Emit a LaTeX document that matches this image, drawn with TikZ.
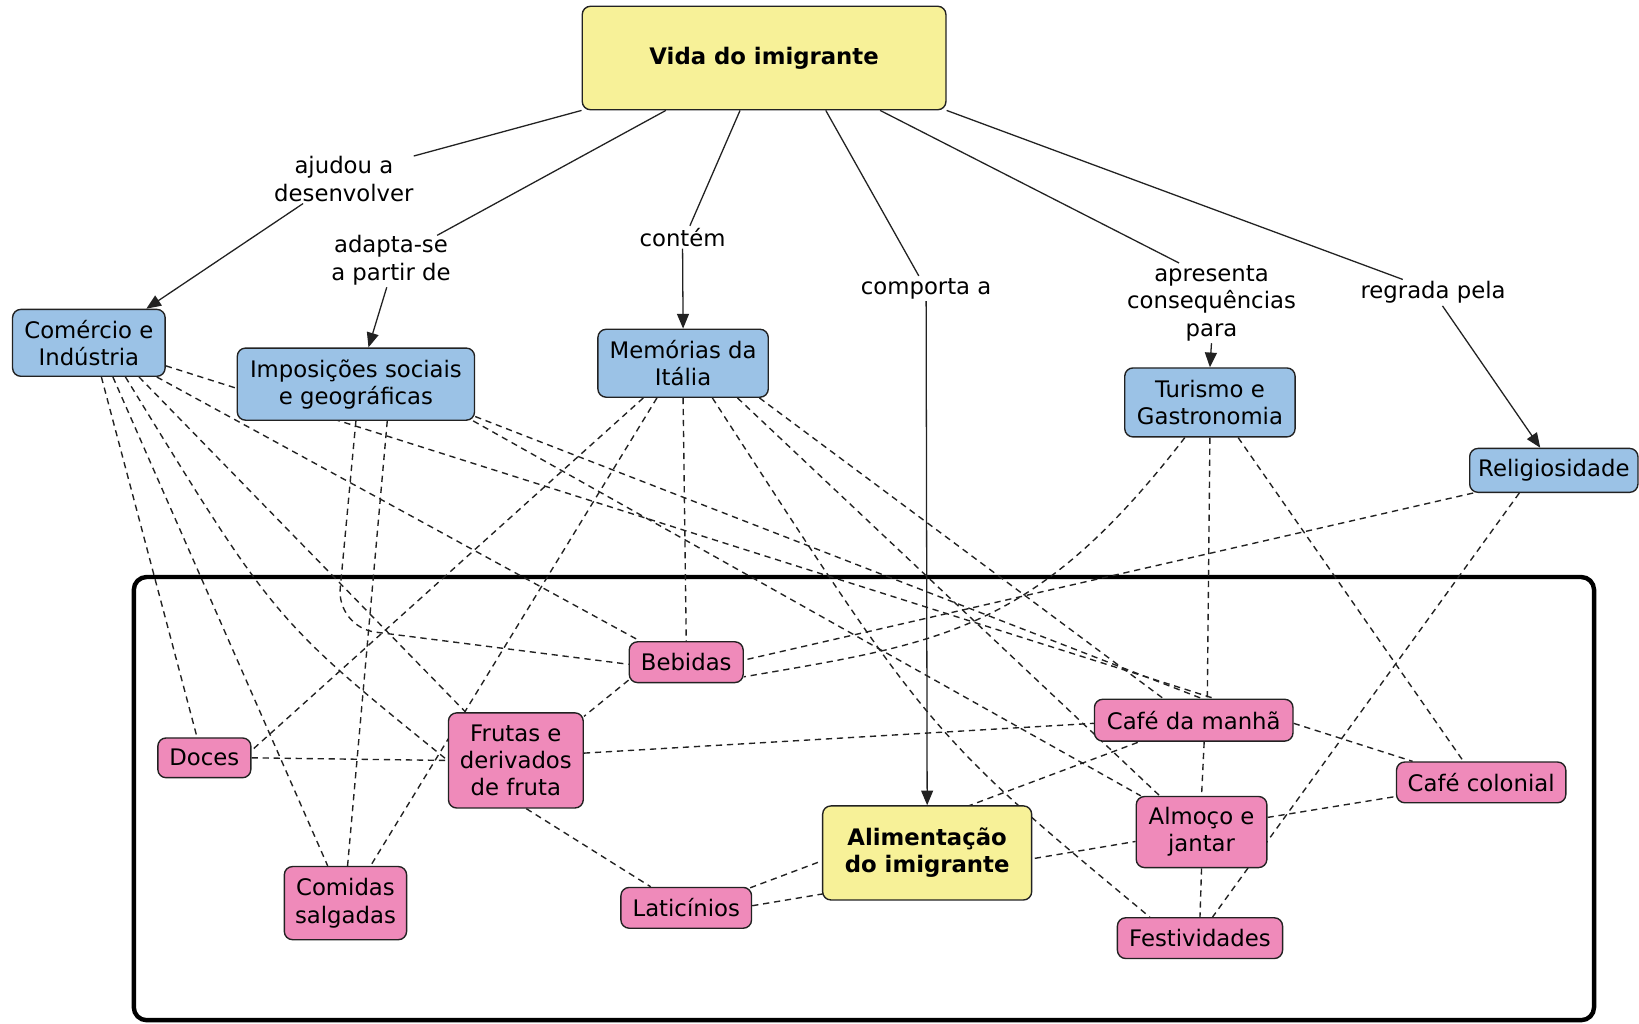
\documentclass[tikz,border=0pt]{standalone}
\usepackage{fontspec}
\setmainfont{DejaVu Sans}
\usetikzlibrary{calc,arrows.meta,backgrounds}

\definecolor{conceptblue}{HTML}{9BC2E6}
\definecolor{conceptpink}{HTML}{EF8ABA}
\definecolor{conceptyellow}{HTML}{F7F198}
\definecolor{inkdark}{HTML}{222222}

\tikzset{
  box/.style={draw=inkdark, line width=0.75pt, rounded corners=4.5pt, inner sep=0pt,
              align=center, text=black, font=\fontsize{12.4}{14.8}\selectfont},
  bluebox/.style={box, fill=conceptblue},
  pinkbox/.style={box, fill=conceptpink},
  yellowbox/.style={box, fill=conceptyellow, font=\fontsize{12.4}{14.8}\selectfont\bfseries},
  linklabel/.style={inner sep=1pt, align=center, font=\fontsize{12.4}{15}\selectfont},
  rel/.style={draw=inkdark, line width=0.7pt},
  relarrow/.style={rel, -{Triangle[length=8pt,width=6.5pt]}},
  xlink/.style={draw=inkdark, line width=0.75pt, dash pattern=on 3.4pt off 2.6pt},
  groupframe/.style={draw=black, line width=2.4pt, rounded corners=7pt}
}

\begin{document}
\begin{tikzpicture}[x=0.02cm, y=-0.02cm]
\useasboundingbox (0,0) rectangle (1568,979);

% ---- concepts ----
\node[yellowbox, minimum width=6.96cm, minimum height=1.98cm] (Vida) at (731,55.5) {Vida do imigrante};

\node[bluebox, minimum width=2.92cm, minimum height=1.28cm] (C) at (85,328) {Comércio e\\Indústria};
\node[bluebox, minimum width=4.54cm, minimum height=1.38cm] (Imp) at (340.5,367.5) {Imposições sociais\\e geográficas};
\node[bluebox, minimum width=3.26cm, minimum height=1.30cm] (M) at (653.5,347.5) {Memórias da\\Itália};
\node[bluebox, minimum width=3.26cm, minimum height=1.32cm] (T) at (1157.5,385) {Turismo e\\Gastronomia};
\node[bluebox, minimum width=3.22cm, minimum height=0.84cm] (R) at (1486.5,450) {Religiosidade};

\node[pinkbox, minimum width=2.18cm, minimum height=0.78cm] (Bebidas) at (656.5,633.5) {Bebidas};
\node[pinkbox, minimum width=1.78cm, minimum height=0.76cm] (Doces) at (195.5,725) {Doces};
\node[pinkbox, minimum width=2.58cm, minimum height=1.82cm] (Frutas) at (493.5,727.5) {Frutas e\\derivados\\de fruta};
\node[pinkbox, minimum width=2.34cm, minimum height=1.40cm] (Comidas) at (330.5,864) {Comidas\\salgadas};
\node[pinkbox, minimum width=2.50cm, minimum height=0.78cm] (Lat) at (656.5,868.5) {Laticínios};
\node[yellowbox, minimum width=4.00cm, minimum height=1.80cm] (Alim) at (887,816) {Alimentação\\do imigrante};
\node[pinkbox, minimum width=3.80cm, minimum height=0.80cm] (Cafe) at (1142,689) {Café da manhã};
\node[pinkbox, minimum width=2.50cm, minimum height=1.36cm] (Almoco) at (1149.5,796) {Almoço e\\jantar};
\node[pinkbox, minimum width=3.16cm, minimum height=0.78cm] (Fest) at (1148,897.5) {Festividades};
\node[pinkbox, minimum width=3.24cm, minimum height=0.78cm] (CC) at (1417,748.5) {Café colonial};

% ---- linking phrases ----
\node[linklabel] (L1) at (329,171) {ajudou a\\desenvolver};
\node[linklabel] (L2) at (374,249) {adapta-se\\a partir de};
\node[linklabel] (L3) at (653,227) {contém};
\node[linklabel] (L4) at (886,276) {comporta a};
\node[linklabel] (L5) at (1159,290) {apresenta\\consequências\\para};
\node[linklabel] (L6) at (1371,280) {regrada pela};

\begin{scope}[on background layer]
  \fill[white] (0,0) rectangle (1568,979);
  \draw[groupframe] (128,552) rectangle (1525,976);

  % propositions from the root concept
  \draw[rel] (Vida.south west) -- ($(L1.north east)+(-2,2)$);
  \draw[relarrow] ($(L1.south)+(-39,0)$) -- ($(C.north)+(55,0)$);
  \draw[rel] ($(Vida.south)+(-94,0)$) -- ($(L2.north east)+(-15,2)$);
  \draw[relarrow] ($(L2.south)+(-4,0)$) -- ($(Imp.north)+(12,0)$);
  \draw[rel] ($(Vida.south)+(-23,0)$) -- ($(L3.north)+(7,0)$);
  \draw[relarrow] (L3.south) -- (M.north);
  \draw[rel] ($(Vida.south)+(59,0)$) -- ($(L4.north)+(-7,0)$);
  \draw[relarrow] (L4.south) -- (Alim.north);
  \draw[rel] ($(Vida.south)+(111,0)$) -- ($(L5.north)+(-31,0)$);
  \draw[relarrow] (L5.south) -- (T.north);
  \draw[rel] (Vida.south east) -- ($(L6.north)+(-29,0)$);
  \draw[relarrow] ($(L6.south)+(9,0)$) -- ($(R.north)+(-13,0)$);

  % cross-links from Comércio e Indústria
  \draw[xlink] ($(C.south)+(12,0)$) -- ($(Doces.north)+(-7,0)$);
  \draw[xlink] ($(C.south)+(23,0)$) -- ($(Comidas.north)+(-17,0)$);
  \draw[xlink] ($(C.south)+(35,0)$) .. controls (263,594) .. (Frutas.west);
  \draw[xlink] ($(C.south)+(48,0)$) -- ($(Frutas.north)+(-48,0)$);
  \draw[xlink] ($(C.south)+(65,0)$) -- ($(Bebidas.north)+(-44,0)$);
  \draw[xlink] ($(C.east)+(0,22)$) -- ($(Cafe.north)+(20,0)$);

  % cross-links from Imposições sociais e geográficas
  \draw[xlink] ($(Imp.south)+(30,0)$) -- ($(Comidas.north)+(2,0)$);
  \draw[xlink, rounded corners=0.75cm] (Imp.south) -- (322,600) -- ($(Bebidas.west)+(0,2)$);
  \draw[xlink] ($(Imp.east)+(0,31)$) -- ($(Cafe.north)+(8,0)$);
  \draw[xlink] ($(Imp.south east)+(-2,0)$) -- ($(Almoco.north west)+(5,0)$);

  % cross-links from Memórias da Itália
  \draw[xlink] ($(M.south)+(-38,0)$) -- ($(Doces.east)+(0,-7)$);
  \draw[xlink] ($(M.south)+(-25,0)$) -- ($(Comidas.north)+(24,0)$);
  \draw[xlink] (M.south) -- (Bebidas.north);
  \draw[xlink] ($(M.south)+(28,0)$) .. controls (890,703) .. ($(Fest.north)+(-48,0)$);
  \draw[xlink] ($(M.south)+(52,0)$) -- ($(Almoco.north)+(-40,0)$);
  \draw[xlink] ($(M.south)+(73,0)$) -- ($(Cafe.north)+(-29,0)$);

  % cross-links from Turismo e Gastronomia
  \draw[xlink] ($(T.south)+(-24,0)$) .. controls (990,605) and (900,615) .. ($(Bebidas.east)+(0,14)$);
  \draw[xlink] (T.south) -- ($(Cafe.north)+(13,0)$);
  \draw[xlink] ($(T.south)+(27,0)$) -- ($(CC.north)+(-17,0)$);

  % cross-links from Religiosidade
  \draw[xlink] ($(R.south west)+(4,0)$) -- ($(Bebidas.east)+(0,-2)$);
  \draw[xlink] ($(R.south)+(-33,0)$) -- ($(Fest.north)+(12,0)$);

  % links among the food concepts
  \draw[xlink] ($(Cafe.south)+(10,0)$) -- (Almoco.north);
  \draw[xlink] ($(Cafe.east)+(0,3)$) -- ($(CC.north west)+(16,0)$);
  \draw[xlink] ($(Frutas.east)+(0,-7)$) -- ($(Cafe.west)+(0,3)$);
  \draw[xlink] (Doces.east) -- (Frutas.west);
  \draw[xlink] ($(Frutas.south)+(10,0)$) -- ($(Lat.north)+(-34,0)$);
  \draw[xlink] ($(Lat.north east)+(-2,1)$) -- ($(Cafe.south)+(-52,0)$);
  \draw[xlink] ($(Lat.east)+(0,-2)$) -- ($(Almoco.west)+(0,9)$);
  \draw[xlink] ($(Almoco.east)+(0,-14)$) -- ($(CC.west)+(0,13.5)$);
  \draw[xlink] (Almoco.south) -- (Fest.north);
  \draw[xlink] ($(Bebidas.south west)+(0,-3)$) -- ($(Frutas.north east)+(0,4)$);
\end{scope}
\end{tikzpicture}
\end{document}
